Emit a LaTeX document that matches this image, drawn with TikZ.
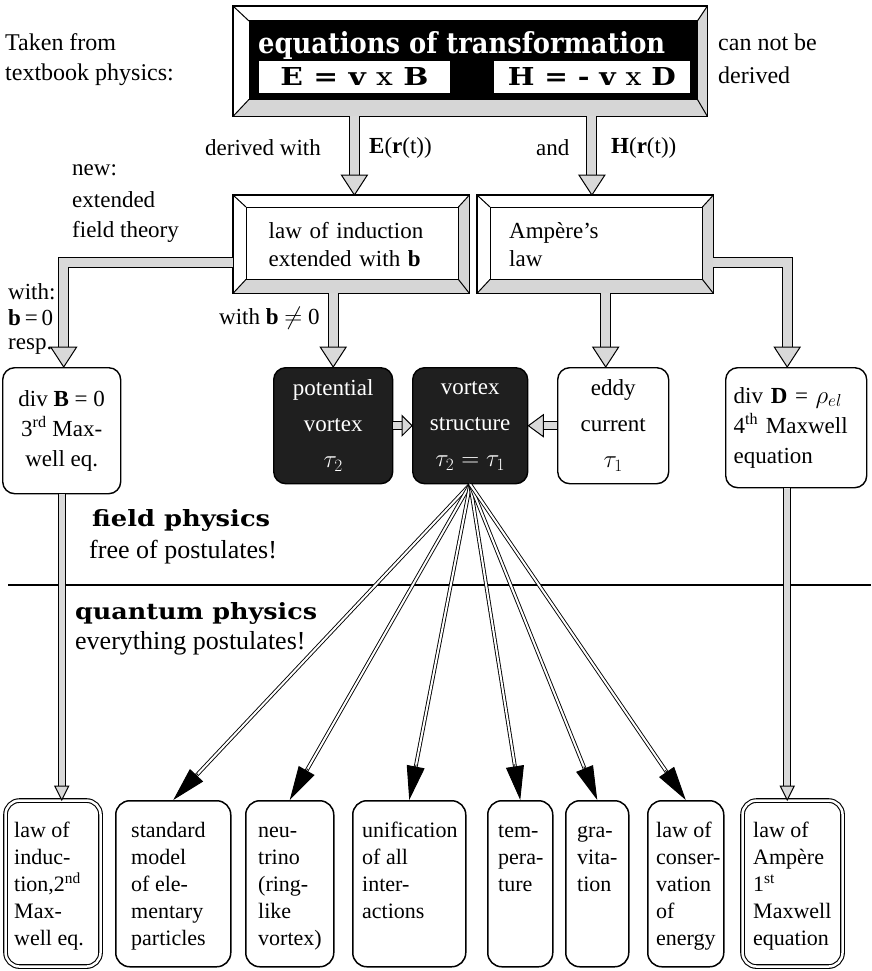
\documentclass[tikz,border=0pt]{standalone}
\usepackage{fontspec}
\setmainfont{Liberation Serif}
\newfontfamily\slab{DejaVu Serif}
\usepackage{graphicx}
\usetikzlibrary{calc,arrows.meta}
\newcommand{\drawbevel}[5]{%
  \path (#1.north west) coordinate (onw) (#1.south east) coordinate (ose);
  \path ($(onw)+(#2,#3)$) coordinate (inw) ($(ose)+(-#4,-#5)$) coordinate (ise);
  \fill[bevelfill] (onw -| ose) -- (ose) -- (ise) -- (ise |- inw) -- cycle;
  \fill[bevelfill] (onw |- ose) -- (ose) -- (ise) -- (inw |- ise) -- cycle;
  \draw[line width=1pt] (inw) rectangle (ise);
  \draw[line width=1pt] (onw) -- (inw) (onw -| ose) -- (ise |- inw) (ose) -- (ise) (onw |- ose) -- (inw |- ise);
  \draw[line width=1.4pt] (onw) rectangle (ose);
}
\tikzset{
  bevelfill/.style={fill=gray!32},
  framebox/.style={draw, line width=1.4pt, fill=white, anchor=north west},
  pipe/.style={line width=1pt, double=gray!30, double distance=9pt, line join=miter, line cap=butt},
  pipes/.style={pipe, double distance=7pt},
  pipen/.style={pipe, double distance=6pt},
  phead/.style={draw=black, line width=1pt, fill=gray!30, line join=miter},
  pics/hdown/.style={code={\draw[phead] (-13,-20) -- (0,0) -- (13,-20) -- cycle;}},
  pics/hnarrow/.style={code={\draw[phead] (-7,-14) -- (0,0) -- (7,-14) -- cycle;}},
  pics/hrights/.style={code={\draw[phead] (-10,-10) -- (0,0) -- (-10,10) -- cycle;}},
  pics/hlefts/.style={code={\draw[phead] (15,-11) -- (0,0) -- (15,11) -- cycle;}},
  rbox/.style={draw, line width=1.4pt, rounded corners=12pt, fill=white, anchor=north west},
  dbox/.style={draw, line width=1.4pt, rounded corners=12pt, fill=black!88, text=white, anchor=north west},
  bbox/.style={draw, line width=1.5pt, rounded corners=14pt, fill=white, minimum height=166pt, anchor=north west},
  bboxd/.style={bbox, double, double distance=2.5pt, line width=1.1pt},
  btxt/.style={align=left, anchor=north west, font=\fontsize{22}{27}\selectfont},
  ray/.style={double, double distance=2pt, line width=0.9pt, shorten >=30pt},
  rhead/.style={-{Triangle[length=34pt,width=18pt]}, line width=0.9pt},
}
\begin{document}
\begin{tikzpicture}[x=1pt,y=-1pt, every node/.append style={inner sep=0pt, font=\fontsize{23}{28}\selectfont}]
\useasboundingbox (0,0) rectangle (871,971);
\fill[white] (0,0) rectangle (871,971);

% side texts at top
\node[anchor=west, font=\fontsize{24}{28}\selectfont] (taken) at (5,42) {Taken from};
\node[anchor=west, font=\fontsize{24}{28}\selectfont] (textbook) at (5,75) {textbook physics:};
\node[anchor=west, font=\fontsize{24}{28}\selectfont] (cannot) at (718,42) {can not be};
\node[anchor=west, font=\fontsize{24}{28}\selectfont] (derived) at (718,75) {derived};

% top frame
\node[framebox, minimum width=473pt, minimum height=109pt] (top) at (233,6) {};
\drawbevel{top}{16}{15}{10}{17}
\fill[black] (inw) rectangle (ise);
\node[anchor=base west, text=white] (title) at (258,54) {\resizebox{407pt}{22pt}{\slab\bfseries equations of transformation}};
\node[draw, fill=white, line width=0.8pt, minimum width=192pt, minimum height=33pt, anchor=north west] (ebox) at (258,60) {\resizebox{148pt}{18pt}{\slab\bfseries E = v {\mdseries x} B}};
\node[draw, fill=white, line width=0.8pt, minimum width=197pt, minimum height=33pt, anchor=north west] (hbox) at (493,60) {\resizebox{168pt}{18pt}{\slab\bfseries H = - v {\mdseries x} D}};

% labels
\node[anchor=west] (derw) at (205,148) {derived with};
\node[anchor=west] (erlab) at (369,148) {\textbf{E}(\textbf{r}(t))};
\node[anchor=west] (andlab) at (536,148) {and};
\node[anchor=west] (hrlab) at (611,148) {\textbf{H}(\textbf{r}(t))};
\node[anchor=west] (new) at (72,170) {new:};
\node[anchor=west] (ext) at (72,200) {extended};
\node[anchor=west] (fth) at (72,232) {field theory};

% second row
\node[framebox, minimum width=235pt, minimum height=97pt, text width=165pt, align=left] (ind) at (233,195) {law of induction\\extended with \textbf{b}};
\drawbevel{ind}{13}{12}{11}{14}
\node[framebox, minimum width=235pt, minimum height=97pt, text width=172pt, align=left] (amp) at (477,195) {Amp\`ere's\\law};
\drawbevel{amp}{13}{12}{11}{14}

% third row
\node[rbox, minimum width=118pt, minimum height=126pt, align=center, font=\fontsize{23}{30}\selectfont] (divB) at (2,367) {div \textbf{B} = 0\\3\textsuperscript{rd} Max-\\well eq.};
\node[dbox, minimum width=119pt, minimum height=116pt, align=center, font=\fontsize{23}{36}\selectfont] (pot) at (273,367) {potential\\vortex\\$\tau_2$};
\node[dbox, minimum width=115pt, minimum height=116pt, align=center, font=\fontsize{23}{36}\selectfont] (vst) at (412,367) {vortex\\structure\\$\tau_2 = \tau_1$};
\node[rbox, minimum width=111pt, minimum height=116pt, align=center, font=\fontsize{23}{36}\selectfont] (eddy) at (557,367) {eddy\\current\\$\tau_1$};
\node[rbox, minimum width=141pt, minimum height=120pt, text width=125pt, align=left, font=\fontsize{23}{30}\selectfont] (divD) at (725,367) {div \textbf{D} = $\rho_{el}$\\4\textsuperscript{th} Maxwell\\equation};

\node[anchor=west] (with1) at (8,292) {with:};
\node[anchor=west] (with2) at (8,318) {\textbf{b}\,=\,0};
\node[anchor=west] (with3) at (8,347) {resp.};
\node[anchor=west] (withb) at (219,318) {with \textbf{b} $\neq$ 0};

% helper coordinates
\coordinate (lp) at ($(divB.north)+(2,0)$);
\coordinate (rp) at ($(divD.north)+(-9,0)$);
\coordinate (ep) at ($(eddy.north)+(-7.5,0)$);

% pipes
\draw[pipe] (top.south -| ebox.south) -- ($(ind.north -| ebox.south)+(0,-20)$);
\pic at (ind.north -| ebox.south) {hdown};
\draw[pipe] (top.south -| hbox.south) -- ($(amp.north -| hbox.south)+(0,-20)$);
\pic at (amp.north -| hbox.south) {hdown};
\draw[pipe] ($(ind.west)+(0,18)$) -| ($(lp)+(0,-20)$);
\pic at (lp) {hdown};
\draw[pipe] ($(amp.east)+(0,18)$) -| ($(rp)+(0,-20)$);
\pic at (rp) {hdown};
\draw[pipe] (ind.south -| pot.north) -- ($(pot.north)+(0,-20)$);
\pic at (pot.north) {hdown};
\draw[pipe] (amp.south -| ep) -- ($(ep)+(0,-20)$);
\pic at (ep) {hdown};
\draw[pipes] (pot.east) -- ($(vst.west)+(-10,0)$);
\pic at (vst.west) {hrights};
\draw[pipes] (eddy.west) -- ($(vst.east)+(15,0)$);
\pic at (vst.east) {hlefts};

% field / quantum physics
\node[anchor=west] (fp) at (92,520) {\resizebox{178pt}{17pt}{\slab\bfseries field physics}};
\node[anchor=west, font=\fontsize{26}{30}\selectfont] (fpo) at (89,552) {free of postulates!};
\draw[line width=1.2pt] (8,585) -- (871,585);
\node[anchor=west] (qp) at (75,613) {\resizebox{242pt}{17pt}{\slab\bfseries quantum physics}};
\node[anchor=west, font=\fontsize{26}{30}\selectfont] (qpo) at (75,643) {everything postulates!};

% bottom boxes
\node[bboxd, minimum width=95pt] (b1) at (5,800) {};
\node[bbox, minimum width=115pt] (b2) at (115,800) {};
\node[bbox, minimum width=88pt] (b3) at (245,800) {};
\node[bbox, minimum width=113pt] (b4) at (352,800) {};
\node[bbox, minimum width=65pt] (b5) at (487,800) {};
\node[bbox, minimum width=63pt] (b6) at (565,800) {};
\node[bbox, minimum width=76pt] (b7) at (647,800) {};
\node[bboxd, minimum width=100pt] (b8) at (742,800) {};

\node[btxt] (t1) at ($(b1.north west)+(9,18)$) {\strut law of\\induc-\\tion,2\textsuperscript{nd}\\Max-\\well eq.};
\node[btxt] (t2) at ($(b2.north west)+(16,18)$) {\strut standard\\model\\of ele-\\mentary\\particles};
\node[btxt] (t3) at ($(b3.north west)+(13,18)$) {\strut neu-\\trino\\(ring-\\like\\vortex)};
\node[btxt] (t4) at ($(b4.north west)+(10,18)$) {\strut unification\\of all\\inter-\\actions};
\node[btxt] (t5) at ($(b5.north west)+(11,18)$) {\strut tem-\\pera-\\ture};
\node[btxt] (t6) at ($(b6.north west)+(12,18)$) {\strut gra-\\vita-\\tion};
\node[btxt] (t7) at ($(b7.north west)+(9,18)$) {\strut law of\\conser-\\vation\\of\\energy};
\node[btxt] (t8) at ($(b8.north west)+(11,18)$) {\strut law of\\Amp\`ere\\1\textsuperscript{st}\\Maxwell\\equation};

% pipes to bottom
\draw[pipen] (divB.south) -- ($(divB.south |- b1.north)+(0,-14)$);
\pic at (divB.south |- b1.north) {hnarrow};
\draw[pipen] (divD.south -| rp) -- ($(rp |- b8.north)+(0,-14)$);
\pic at (rp |- b8.north) {hnarrow};

% rays from vortex structure
\foreach \b in {b2,b3,b4,b5,b6,b7} {
  \draw[ray] (vst.south) -- (\b.north);
  \draw[rhead] ($(\b.north)!36pt!(vst.south)$) -- (\b.north);
}
\end{tikzpicture}
\end{document}
